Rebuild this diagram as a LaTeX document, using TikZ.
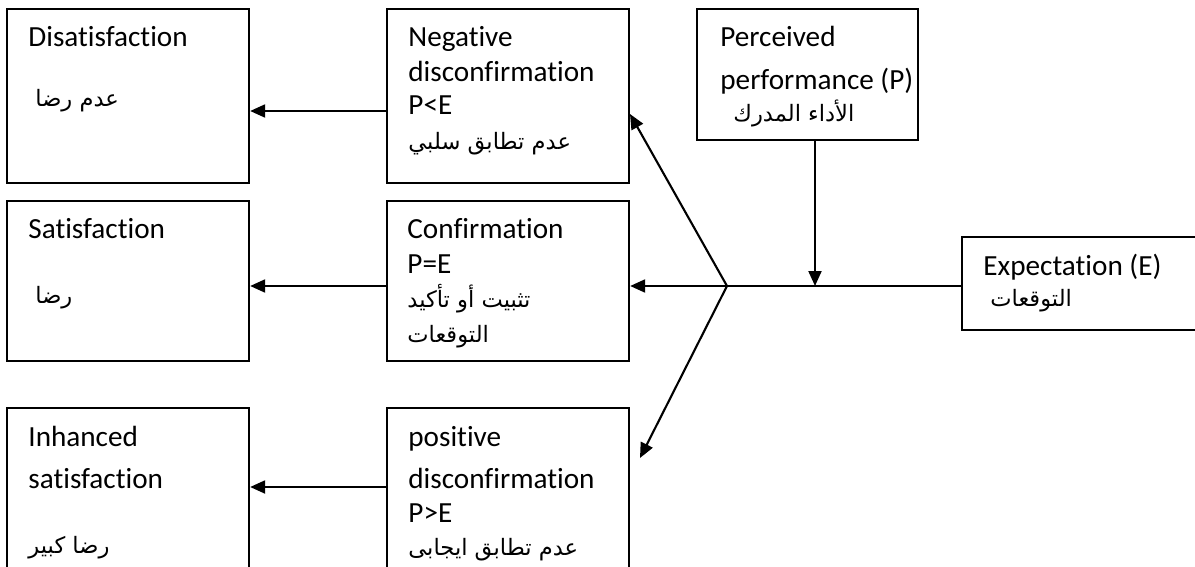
\documentclass[tikz,border=0pt]{standalone}
\usepackage{fontspec}
\setmainfont{Carlito}[Ligatures=CommonOff]
\newfontfamily\arabicfont[Script=Arabic]{DejaVu Sans}
\TeXXeTstate=1
\usetikzlibrary{arrows.meta}
\tikzset{
  x=0.5pt, y=-0.5pt,
  box/.style={draw, line width=1.15pt, inner sep=0pt},
  lt/.style={anchor=base west, inner sep=0pt, font=\fontsize{14.6}{17}\selectfont},
  ar/.style={anchor=base west, inner sep=0pt, font=\arabicfont\fontsize{11.3}{14}\selectfont},
  link/.style={line width=1.05pt},
  arr/.style={link, -{Triangle[length=7.5pt,width=6.5pt]}}
}
\begin{document}
\begin{tikzpicture}
\useasboundingbox (0,0) rectangle (1195,567);
\clip (0,0) rectangle (1195,567);

% outcome boxes (left column)
\node[box, minimum width=121pt, minimum height=87pt] (dis) at (128,96) {};
\node[box, minimum width=121pt, minimum height=80pt] (sat) at (128,281) {};
\node[box, minimum width=121pt, minimum height=86pt] (inh) at (128,494) {};

% comparison boxes (middle column)
\node[box, minimum width=121pt, minimum height=87pt] (neg) at (508,96) {};
\node[box, minimum width=121pt, minimum height=80pt] (conf) at (508,281) {};
\node[box, minimum width=121pt, minimum height=86pt] (pos) at (508,494) {};

% inputs
\node[box, minimum width=110.5pt, minimum height=65.5pt] (perc) at (807.5,74.5) {};
\node[box, minimum width=140pt, minimum height=46.5pt, anchor=west] (exp) at (961,283.5) {};

% texts
\node[lt] (tdis) at (28,47) {Disatisfaction};
\node[ar] (adis) at (35,107) {\beginR عدم رضا\endR};

\node[lt] (tsat) at (28,239) {Satisfaction};
\node[ar] (asat) at (35,303) {\beginR رضا\endR};

\node[lt] (tinh1) at (28,446) {Inhanced};
\node[lt] (tinh2) at (28,488) {satisfaction};
\node[ar] (ainh) at (28,553) {\beginR رضا كبير\endR};

\node[lt] (tneg1) at (408,47) {Negative};
\node[lt] (tneg2) at (408,82) {disconfirmation};
\node[lt] (tneg3) at (408,115) {P<E};
\node[ar] (aneg) at (408,149) {\beginR عدم تطابق سلبي\endR};

\node[lt] (tconf1) at (407,239) {Confirmation};
\node[lt] (tconf2) at (407,273) {P=E};
\node[ar] (aconf1) at (407,307) {\beginR تثبيت أو تأكيد\endR};
\node[ar] (aconf2) at (407,342) {\beginR التوقعات\endR};

\node[lt] (tpos1) at (408,446) {positive};
\node[lt] (tpos2) at (408,488) {disconfirmation};
\node[lt] (tpos3) at (408,522) {P>E};
\node[ar] (apos) at (408,555) {\beginR عدم تطابق ايجابى\endR};

\node[lt] (tperc1) at (720,47) {Perceived};
\node[lt] (tperc2) at (720,90) {performance (P)};
\node[ar] (aperc) at (733,122) {\beginR الأداء المدرك\endR};

\node[lt] (texp) at (983,275) {Expectation (E)};
\node[ar] (aexp) at (990,306) {\beginR التوقعات\endR};

% junction points
\coordinate (J) at (727,286);
\coordinate (Pm) at (815,286);
\coordinate (ytop) at (0,111);
\coordinate (ymid) at (0,286);
\coordinate (ybot) at (0,487);
\coordinate (tipN) at (630,114);
\coordinate (tipP) at (640,458);

% connectors
\draw[link] (exp.west |- ymid) -- (J);
\draw[arr] (perc.south -| Pm) -- (Pm);
\draw[arr] (J) -- (conf.east |- ymid);
\draw[arr] (J) -- (tipN);
\draw[arr] (J) -- (tipP);
\draw[arr] (neg.west |- ytop) -- (dis.east |- ytop);
\draw[arr] (conf.west |- ymid) -- (sat.east |- ymid);
\draw[arr] (pos.west |- ybot) -- (inh.east |- ybot);
\end{tikzpicture}
\end{document}
